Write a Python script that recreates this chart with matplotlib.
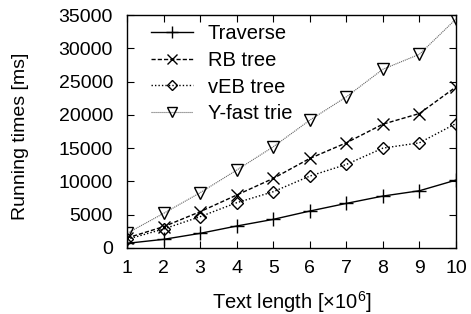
import matplotlib
matplotlib.use("Agg")
import matplotlib.pyplot as plt

plt.rcParams['font.family'] = ['Liberation Sans', 'DejaVu Sans']
plt.rcParams['font.size'] = 14
plt.rcParams['mathtext.fontset'] = 'custom'
plt.rcParams['mathtext.rm'] = 'Liberation Sans'

text_len = [1, 2, 3, 4, 5, 6, 7, 8, 9, 10]
traverse = [700, 1300, 2200, 3300, 4300, 5550, 6700, 7800, 8600, 10200]
rb_tree = [1500, 3200, 5450, 7950, 10450, 13450, 15800, 18600, 20200, 24200]
veb_tree = [1300, 2850, 4700, 6800, 8450, 10800, 12550, 15000, 15800, 18700]
yfast_trie = [2200, 5200, 8300, 11700, 15200, 19200, 22700, 26850, 29100, 34400]

fig = plt.figure(figsize=(4.71, 3.14), dpi=100)
ax = fig.add_axes([0.2696, 0.2102, 0.6985, 0.742])

ax.plot(text_len, traverse, color='black', lw=1.0, ls='-', marker='+',
        ms=10, mew=1.0, label='Traverse')
ax.plot(text_len, rb_tree, color='black', lw=1.0, ls=(0, (3, 1.5)), marker='x',
        ms=9, mew=1.0, label='RB tree')
ax.plot(text_len, veb_tree, color='black', lw=1.0, ls=(0, (1, 1.5)), marker='D',
        ms=6.5, mew=1.0, mfc='none', label='vEB tree')
ax.plot(text_len, yfast_trie, color='#666666', lw=0.8, ls=(0, (1, 0.8)), marker='v',
        ms=9, mew=1.0, mfc='none', mec='black', label='Y-fast trie')

ax.set_xlim(1, 10)
ax.set_ylim(0, 35000)
ax.set_xticks(range(1, 11))
ax.set_yticks(range(0, 35001, 5000))
ax.tick_params(direction='in', top=True, right=True, length=5, width=0.8)
ax.tick_params(axis='y', pad=10)
ax.tick_params(axis='x', pad=9)
for s in ax.spines.values():
    s.set_linewidth(1.0)

ax.set_xlabel(r'Text length [$\times$10$^6$]', labelpad=8, fontsize=14.5)
ax.set_ylabel('Running times [ms]')
ax.yaxis.set_label_coords(-0.297, 0.48)

ax.legend(loc='upper left', bbox_to_anchor=(0.049, 0.995), frameon=False,
          handlelength=2.1, handletextpad=0.7, labelspacing=0.38,
          borderaxespad=0, markerscale=0.85, fontsize=14.5)

fig.savefig('out.png', dpi=100)
